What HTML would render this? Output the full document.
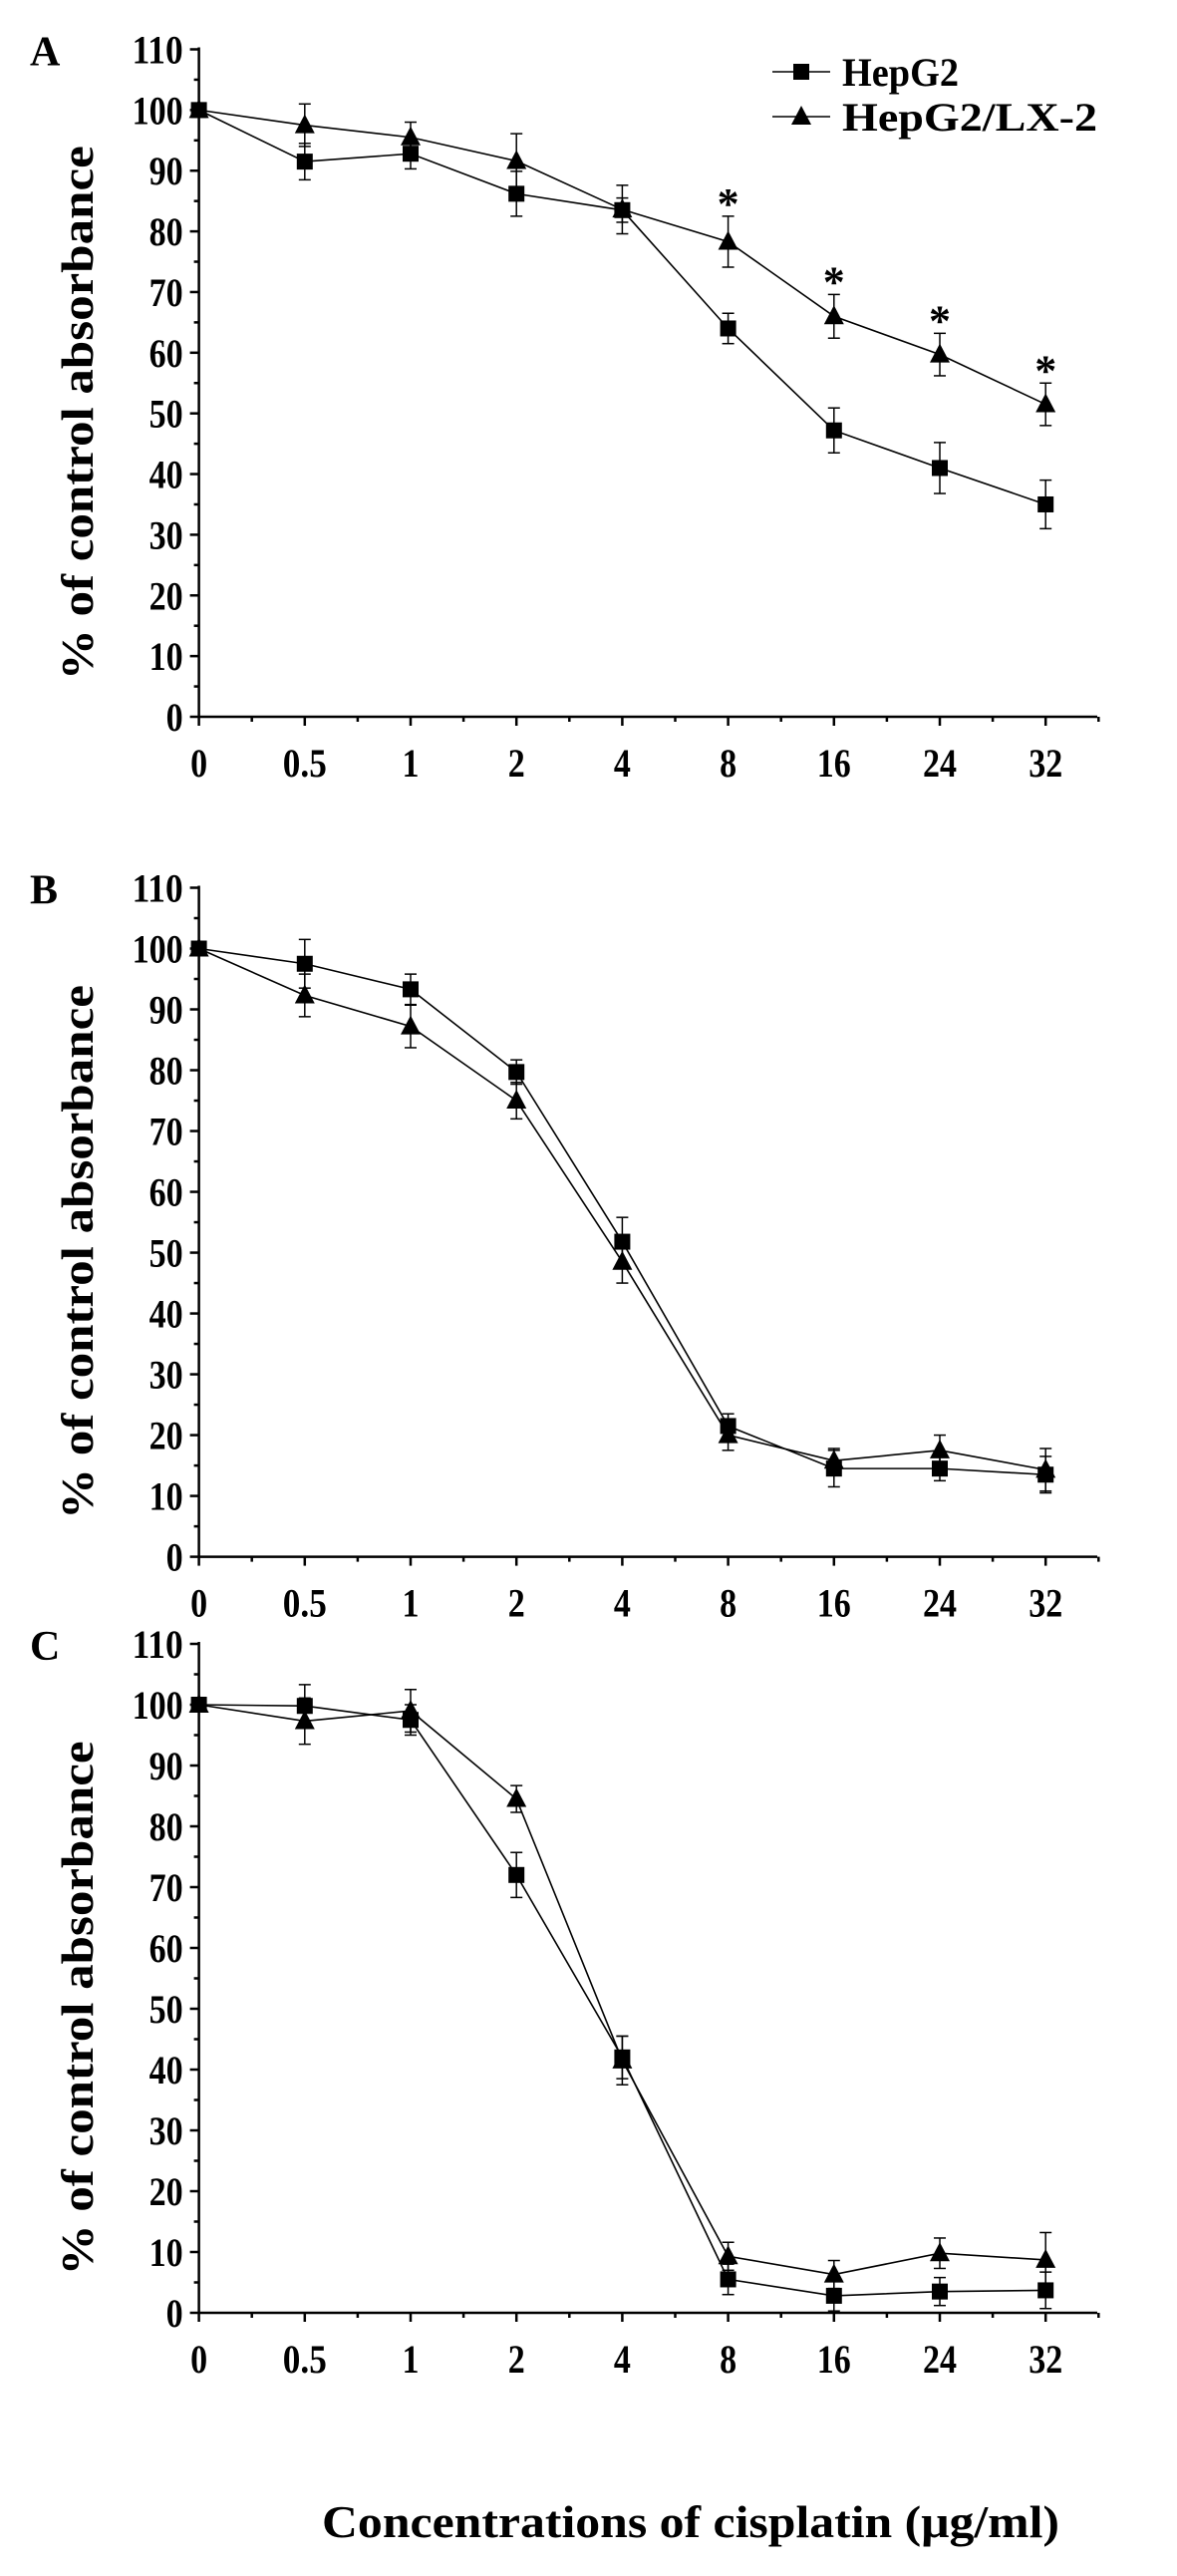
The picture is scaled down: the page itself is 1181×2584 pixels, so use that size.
<!DOCTYPE html>
<html><head><meta charset="utf-8"><style>
html,body{margin:0;padding:0;background:#fff;}
svg{display:block;font-family:"Liberation Serif","DejaVu Serif",serif;font-weight:bold;}
</style></head><body>
<svg id="fig" width="1181" height="2584" viewBox="0 0 1181 2584" xmlns="http://www.w3.org/2000/svg"></svg>
<script>
const categories = ["0","0.5","1","2","4","8","16","24","32"];
const yTicks = [0,10,20,30,40,50,60,70,80,90,100,110];
const aHep = [100,91.5,92.8,86.2,83.5,64,47.2,41,35];
const aHepErr = [0,3,2.5,3.7,2,2.5,3.7,4.2,4];
const aLx = [100,97.5,95.5,91.6,83.6,78.3,66,59.7,51.5];
const aLxErr = [0,3.5,2.5,4.5,4,4.2,3.6,3.5,3.5];
const aStars = [5,6,7,8];
const bHep = [100,97.5,93.3,79.7,51.8,21.5,14.5,14.5,13.5];
const bHepErr = [0,4,2.5,2,4,2,3,2,3];
const bLx = [100,92.3,87.2,75,48.5,20,15.8,17.5,14.3];
const bLxErr = [0,3.5,3.5,3,3.5,2.5,2,2.5,3.5];
const cHep = [100,99.8,97.5,72,42,5.5,2.8,3.5,3.7];
const cHepErr = [0,3.5,2.5,3.7,3.5,2.5,2.5,2.3,3];
const cLx = [100,97.3,99,84.5,41.5,9.3,6.3,9.8,8.7];
const cLxErr = [0,3.8,3.5,2.2,4,2.3,2.3,2.5,4.5];

const NS="http://www.w3.org/2000/svg";
const svg=document.getElementById('fig');
function mk(tag,attrs,parent,text){const e=document.createElementNS(NS,tag);for(const k in attrs)e.setAttribute(k,attrs[k]);if(text!==undefined)e.textContent=text;(parent||svg).appendChild(e);return e;}
function lblW(s){let w=0;for(const ch of s)w+=(ch==='.'?10:17);return w;}

const X0=199.6, STEP=106.2, XEND=1101;
function xs(i){return X0+i*STEP;}

function panel(letter,y0,y110,hep,hepErr,lx,lxErr,stars,legend){
  const g=mk('g',{});
  
  
  const ys=v=>y0+(y110-y0)*v/110;
  const ax=mk('g',{stroke:'#000','stroke-width':2.5,fill:'none'},g);
  
  
  mk('line',{x1:X0,y1:y0,x2:X0,y2:y110-2},ax);
  mk('line',{x1:X0,y1:y0,x2:XEND,y2:y0},ax);
  yTicks.forEach(t=>{mk('line',{x1:X0-9,y1:ys(t),x2:X0,y2:ys(t)},ax);
    if(t<110) mk('line',{x1:X0-5,y1:ys(t+5),x2:X0,y2:ys(t+5)},ax);
    const s=String(t);
    const tl=mk('text',{x:X0-16,y:ys(t)+14,'text-anchor':'end','font-size':40,fill:'#000',stroke:'none',textLength:lblW(s),lengthAdjust:'spacingAndGlyphs'},g,s);
    
    
  });
  categories.forEach((c,i)=>{mk('line',{x1:xs(i),y1:y0,x2:xs(i),y2:y0+9},ax);
    mk('line',{x1:xs(i)+STEP/2,y1:y0,x2:xs(i)+STEP/2,y2:y0+5},ax);
    const tl=mk('text',{x:xs(i),y:y0+60,'text-anchor':'middle','font-size':40,fill:'#000',textLength:lblW(c),lengthAdjust:'spacingAndGlyphs'},g,c);
    
    
  });
  const yt=mk('text',{x:0,y:0,transform:`translate(93,${(y0+y110)/2+30}) rotate(-90)`,'text-anchor':'middle','font-size':46,fill:'#000',textLength:536,lengthAdjust:'spacingAndGlyphs'},g,'% of control absorbance');
  
  
  const pl=mk('text',{x:30,y:y110+16,'font-size':42,fill:'#000'},g,letter);
  
  
  function series(vals,errs,marker,name){
    const sg=mk('g',{},g);
    
    
    mk('polyline',{points:vals.map((v,i)=>xs(i)+','+ys(v)).join(' '),fill:'none',stroke:'#000','stroke-width':1.6},sg);
    vals.forEach((v,i)=>{
      if(errs[i]>0){const t=ys(v+errs[i]),b=ys(v-errs[i]);
        mk('line',{x1:xs(i),y1:t,x2:xs(i),y2:b,stroke:'#000','stroke-width':1.5},sg);
        mk('line',{x1:xs(i)-6,y1:t,x2:xs(i)+6,y2:t,stroke:'#000','stroke-width':1.5},sg);
        mk('line',{x1:xs(i)-6,y1:b,x2:xs(i)+6,y2:b,stroke:'#000','stroke-width':1.5},sg);}
      const x=xs(i),y=ys(v);
      if(marker==='sq') mk('rect',{x:x-8,y:y-8,width:16,height:16,fill:'#000'},sg);
      else mk('polygon',{points:`${x},${y-11} ${x-10},${y+8} ${x+10},${y+8}`,fill:'#000'},sg);
    });
  }
  series(hep,hepErr,'sq','series-hepg2');
  series(lx,lxErr,'tri','series-hepg2-lx2');
  stars.forEach(i=>{const s=mk('text',{x:xs(i),y:ys(lx[i]+lxErr[i])+2,'text-anchor':'middle','font-size':44,fill:'#000'},g,'*');
    
    });
  if(legend){
    const lg=mk('g',{},g);
    
    
    mk('line',{x1:775,y1:72,x2:833,y2:72,stroke:'#000','stroke-width':1.6},lg);
    mk('rect',{x:796,y:64,width:16,height:16,fill:'#000'},lg);
    mk('text',{x:845,y:86,'font-size':40,fill:'#000',textLength:117,lengthAdjust:'spacingAndGlyphs'},lg,'HepG2');
    mk('line',{x1:775,y1:117,x2:833,y2:117,stroke:'#000','stroke-width':1.6},lg);
    mk('polygon',{points:'804,106 794,125 814,125',fill:'#000'},lg);
    mk('text',{x:845,y:131,'font-size':40,fill:'#000',textLength:256,lengthAdjust:'spacingAndGlyphs'},lg,'HepG2/LX-2');
  }
}
panel('A',719,49.5,aHep,aHepErr,aLx,aLxErr,aStars,true);
panel('B',1561.6,890.5,bHep,bHepErr,bLx,bLxErr,[],false);
panel('C',2320,1649,cHep,cHepErr,cLx,cLxErr,[],false);
const xt=mk('text',{x:693,y:2545,'text-anchor':'middle','font-size':46,fill:'#000',textLength:740,lengthAdjust:'spacingAndGlyphs'},svg,'Concentrations of cisplatin (μg/ml)');


</script>
</body></html>
